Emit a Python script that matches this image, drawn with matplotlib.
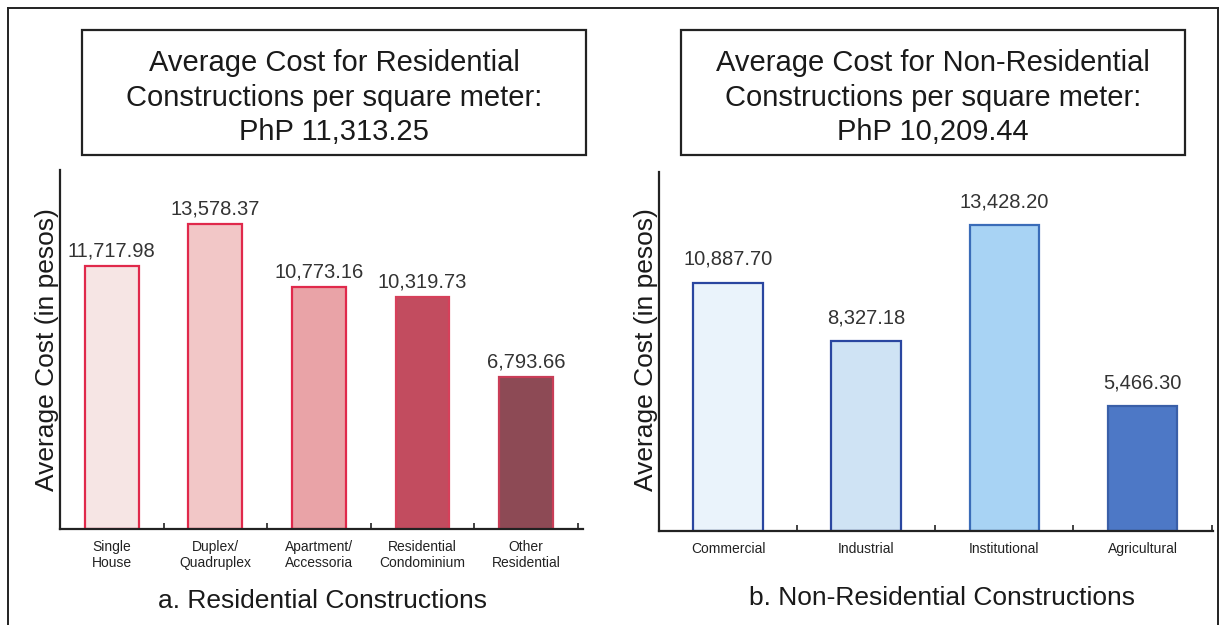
import matplotlib
matplotlib.use("Agg")
import matplotlib.pyplot as plt
from matplotlib.patches import Rectangle
from matplotlib.lines import Line2D

plt.rcParams['font.family'] = ['Liberation Sans', 'DejaVu Sans']

# ---- data ----
res_categories = ["Single\nHouse", "Duplex/\nQuadruplex", "Apartment/\nAccessoria",
                  "Residential\nCondominium", "Other\nResidential"]
res_values = [11717.98, 13578.37, 10773.16, 10319.73, 6793.66]
res_title = "Average Cost for Residential\nConstructions per square meter:\nPhP 11,313.25"
res_subtitle = "a. Residential Constructions"

nonres_categories = ["Commercial", "Industrial", "Institutional", "Agricultural"]
nonres_values = [10887.70, 8327.18, 13428.20, 5466.30]
nonres_title = "Average Cost for Non-Residential\nConstructions per square meter:\nPhP 10,209.44"
nonres_subtitle = "b. Non-Residential Constructions"

y_label = "Average Cost (in pesos)"

# ---- styles ----
res_fills = ['#f6e5e4', '#f2c7c7', '#e9a3a7', '#c24c5f', '#8d4a55']
res_edges = ['#e0294b', '#e0294b', '#e0294b', '#d6405a', '#c93d57']
nonres_fills = ['#eaf3fb', '#cfe3f4', '#a8d3f4', '#4d78c6']
nonres_edges = ['#2a46a0', '#2a46a0', '#3a6cb8', '#3a5fa8']

W, H = 1221, 625
fig = plt.figure(figsize=(W / 100, H / 100), dpi=100)

def fx(px):
    return px / W

def fy(py):
    return 1 - py / H

# outer frame (left, top, right)
for xs, ys in [([8, 8], [8, 630]), ([8, 1218], [8, 8]), ([1218, 1218], [8, 630])]:
    fig.add_artist(Line2D([fx(v) for v in xs], [fy(v) for v in ys], color='#222222',
                          lw=1.4, transform=fig.transFigure))


def panel(ax_rect, cats, vals, fills, edges, ylim, xlim, width, title, box_px,
          subtitle, sub_xy, ylab_x, label_offset):
    ax = fig.add_axes(ax_rect)
    x = list(range(len(cats)))
    bars = ax.bar(x, vals, width=width, color=fills, edgecolor=edges, linewidth=1.6)
    for b, v in zip(bars, vals):
        ax.annotate(f"{v:,.2f}", (b.get_x() + b.get_width() / 2, v),
                    xytext=(0, label_offset), textcoords='offset points',
                    ha='center', va='bottom', fontsize=14.5, color='#333333')
    ax.set_ylim(*ylim)
    ax.set_xlim(*xlim)
    ax.set_xticks(x)
    ax.set_xticklabels(cats, fontsize=10, color='#222222', linespacing=1.15)
    ax.tick_params(axis='x', which='major', length=0, pad=8)
    ax.set_xticks([i - 0.5 for i in range(len(cats) + 1)], minor=True)
    ax.tick_params(axis='x', which='minor', direction='in', length=4, width=1.2, color='#222222')
    ax.set_yticks([])
    for s in ['top', 'right']:
        ax.spines[s].set_visible(False)
    for s in ['left', 'bottom']:
        ax.spines[s].set_linewidth(1.6)
        ax.spines[s].set_color('#222222')
    # title box
    x0, y0, x1, y1 = box_px
    fig.add_artist(Rectangle((fx(x0), fy(y1)), fx(x1) - fx(x0), fy(y0) - fy(y1),
                             fill=False, edgecolor='#222222', lw=1.6,
                             transform=fig.transFigure))
    fig.text(fx((x0 + x1) / 2), fy((y0 + y1) / 2 + 5), title, ha='center', va='center',
             fontsize=21, color='#1a1a1a', linespacing=1.3)
    fig.text(fx(sub_xy[0]), fy(sub_xy[1]), subtitle, ha='center', va='center',
             fontsize=19, color='#1a1a1a')
    fig.text(fx(ylab_x), fy(350), y_label, rotation=90, ha='center', va='center',
             fontsize=19, color='#1a1a1a')
    return ax


panel([fx(60), fy(529), fx(583) - fx(60), fy(170) - fy(529)],
      res_categories, res_values, res_fills, res_edges,
      (0, 16000), (-0.48, 4.55), 0.52, res_title, (82, 30, 586, 155),
      res_subtitle, (323, 601), 47, 4)

panel([fx(659), fy(531), fx(1213) - fx(659), fy(172) - fy(531)],
      nonres_categories, nonres_values, nonres_fills, nonres_edges,
      (0, 15750), (-0.49, 3.51), 0.505, nonres_title, (681, 30, 1185, 155),
      nonres_subtitle, (942, 598), 646, 10)

fig.savefig("out.png", dpi=100)
